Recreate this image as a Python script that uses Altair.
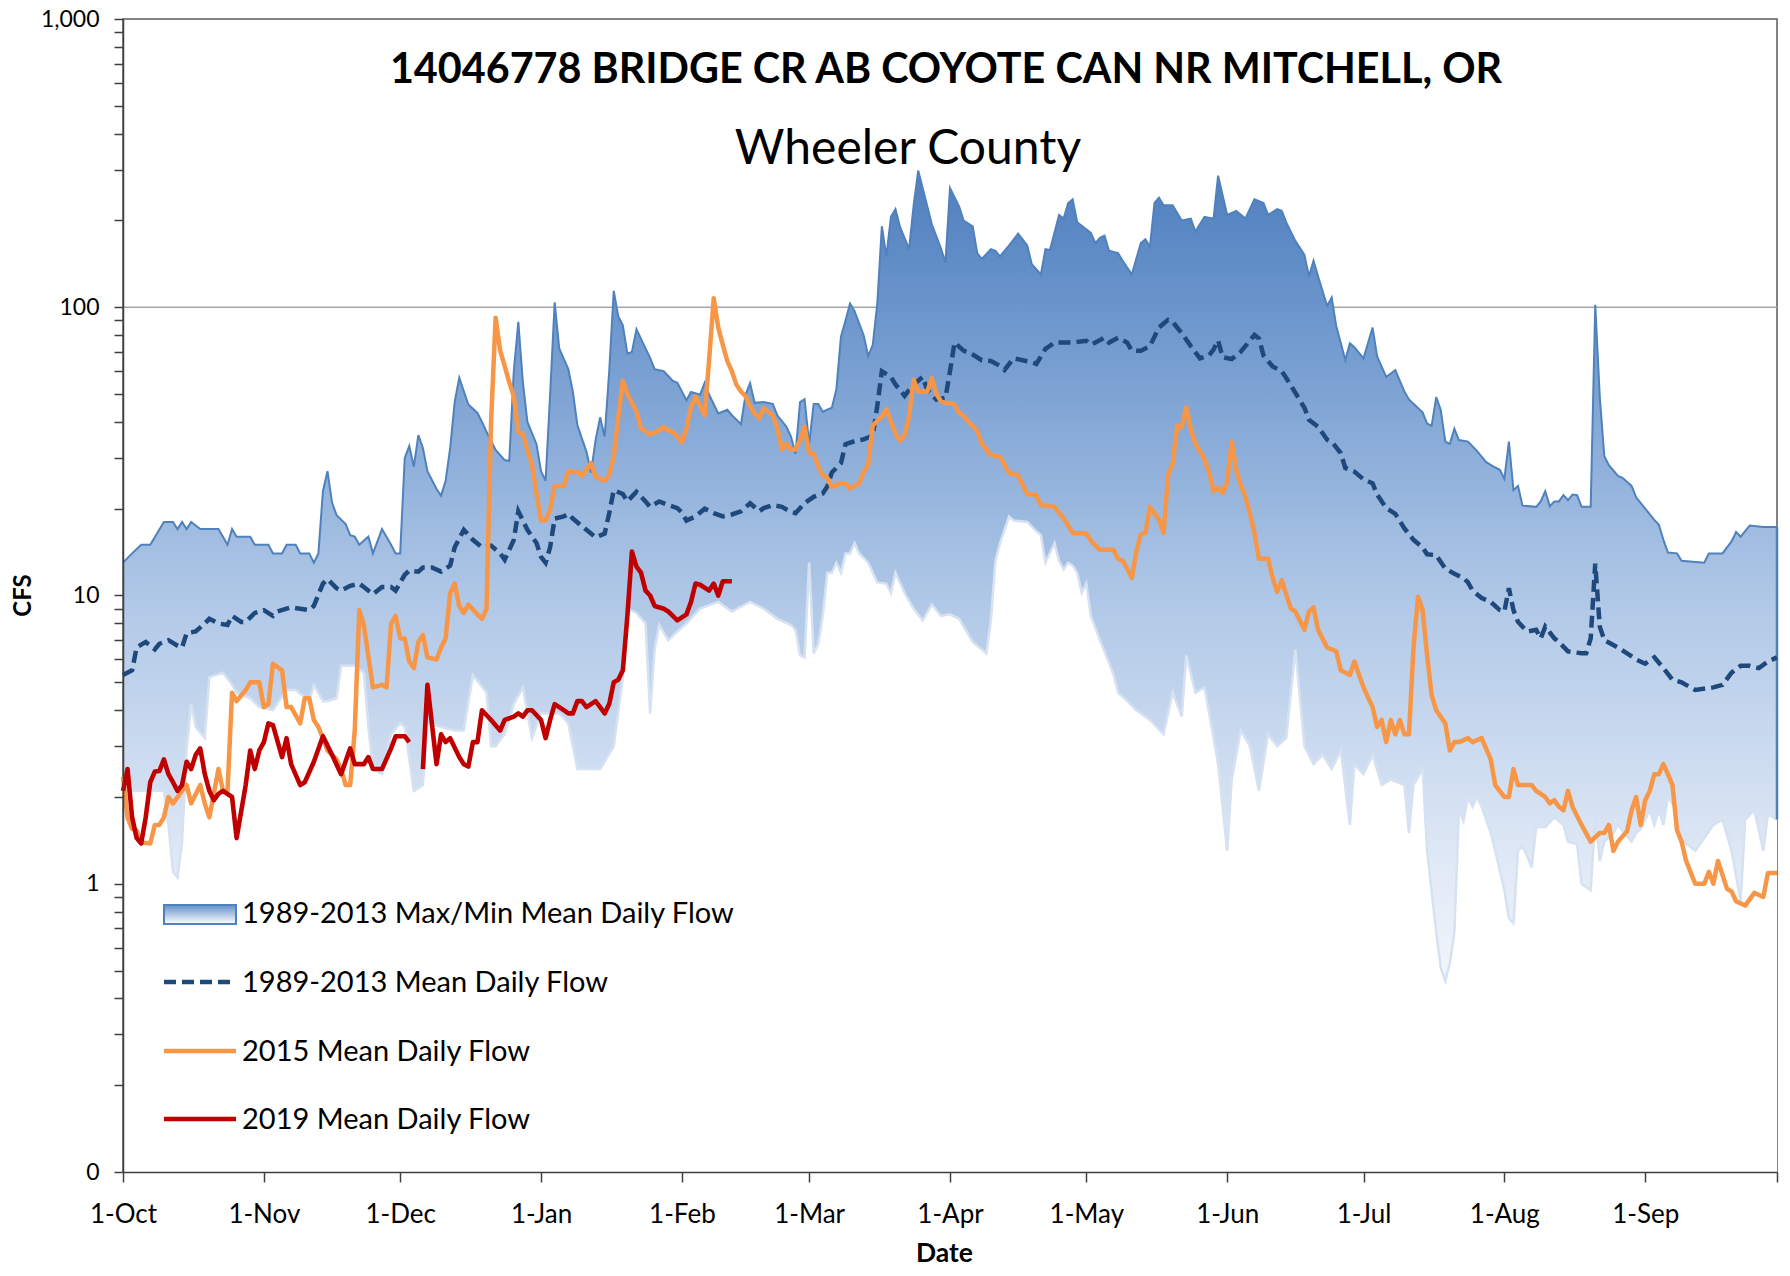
import datetime as dt
import pandas as pd
import altair as alt

# ---------------- text ----------------
TITLE = "14046778 BRIDGE CR AB COYOTE CAN NR MITCHELL, OR"
SUBTITLE = "Wheeler County"
X_TITLE = "Date"
Y_TITLE = "CFS"
LEGEND_LABELS = [
    "1989-2013 Max/Min Mean Daily Flow",
    "1989-2013 Mean Daily Flow",
    "2015 Mean Daily Flow",
    "2019 Mean Daily Flow",
]
FONT = "Lato"

# water-year day 0 = 1 Oct
BASE = dt.date(2018, 10, 1)
MONTH_TICK_DAYS = [0, 31, 61, 92, 123, 151, 182, 212, 243, 273, 304, 335, 364]

# ---------------- data (day of water year, cfs) ----------------
max_flow = [(0,13),(2,14),(4,15),(6,15),(9,18),(11,18),(12,17),(13,18),(14,17),(15,18),(17,17),(21,17),(22,16),(23,15),(24,17),(25,16),(28,16),(29,15),(32,15),(33,14),(35,14),(36,15),(38,15),(39,14),(41,14),(42,13),(43,14),(44,23),(45,27),(46,21),(47,19),(49,17.7),(50,16.2),(51,16),(52,15),(54,16),(55,14),(57,17),(59,15),(60,14),(61,14),(62,30),(63,33),(64,28),(65,36),(66,32.5),(67,27),(69,23.4),(70,22.2),(71,25),(72,32.5),(73,47),(74,57),(76,46),(78,43),(79,40),(80,37),(82,32),(84,29.5),(85,29.3),(86,60),(87,89),(88,55),(89,40),(91,33.5),(92,27),(93,25),(94,50),(95,104),(96,72),(98,61),(99,51),(100,39),(101,35),(102,31.5),(103,26.7),(104,34.6),(105,41.5),(106,35.6),(107,60),(108,114),(109,93),(110,86.5),(111,69),(112,70),(113,84),(115,72),(116,66.7),(117,61),(119,60),(121,55.5),(122,54.7),(124,47.6),(125,50.8),(127,49.7),(128,54.7),(129,49.7),(131,42.8),(133,44.1),(134,42.2),(136,39.3),(137,49.7),(138,54.5),(139,46.6),(141,46.9),(143,46.2),(144,42.2),(146,38.5),(147,35.6),(148,31),(149,46.9),(150,48),(151,33.5),(152,46.2),(153,46.2),(154,43.4),(156,44.8),(157,52),(158,79),(159,90),(160,103),(161,97),(162,88),(163,80),(164,67.7),(165,74),(166,103),(167,191),(168,150),(169,206),(170,219),(171,190),(173,159),(174,226),(175,298),(177,224),(178,194),(180,160),(181,143),(182,259),(184,224),(185,200),(187,191),(188,154),(189,147),(191,159),(192,157),(193,150),(195,164),(197,180),(199,164),(200,141),(202,130),(203,159),(204,158),(206,209),(207,203),(208,230),(209,237),(210,197),(213,181),(214,167),(215,174),(216,177),(217,157),(219,154),(220,145),(222,130),(224,167),(225,172),(226,162),(227,230),(228,240),(229,226),(231,226),(233,200),(235,203),(236,183),(238,206),(240,203),(241,286),(243,209),(245,216),(247,203),(249,237),(251,230),(252,209),(254,219),(255,216),(256,197),(258,170),(260,152),(261,128),(262,145),(263,128),(265,101),(266,108),(267,86),(269,65.6),(270,75),(271,72.7),(273,66.5),(275,85),(276,67.5),(278,57.3),(280,60.5),(282,51),(283,47.9),(284,46.3),(286,43.2),(287,39.5),(288,38.8),(289,48.8),(290,44),(291,34.2),(292,33.6),(293,37.9),(294,34.6),(296,34.2),(298,31.7),(300,29),(302,27.8),(303,27.3),(304,25.4),(305,34.2),(306,23.2),(307,24),(308,20.5),(311,20.3),(312,21.2),(313,23),(314,20.4),(315,21.2),(316,21.2),(317,22.3),(318,21.4),(319,22.4),(320,22.3),(321,20.3),(323,20.3),(324,102),(325,48.8),(326,30.4),(327,28.3),(329,26),(330,25.6),(332,24),(333,21.9),(335,20),(337,18.3),(338,17.6),(339,15.6),(340,14.1),(342,14),(343,13.2),(348,13),(349,14),(352,14),(354,15.4),(355,16.6),(356,16),(358,17.5),(361,17.3),(364,17.3)]

min_flow = [(0,2.1),(5,2.1),(9,2.1),(10,1.6),(11,1.1),(12,1.05),(13,1.4),(14,2.9),(15,4.2),(16,3.5),(18,3.2),(19,5.2),(22,5.4),(24,4.9),(25,4.6),(28,4.4),(30,4.1),(33,4.0),(36,4.7),(38,4.7),(41,4.3),(42,4.9),(44,4.3),(45,4.3),(47,4.4),(48,5.7),(51,5.7),(53,5.4),(54,3.5),(55,2.5),(57,2.4),(59,3.3),(61,3.6),(62,3.5),(64,2.1),(66,2.2),(67,3.6),(70,3.5),(73,3.4),(75,3.4),(77,5.3),(80,4.6),(81,3.0),(82,3.0),(84,3.3),(86,4.2),(88,4.8),(90,3.2),(92,3.9),(94,3.9),(96,3.9),(98,3.6),(100,2.5),(105,2.5),(108,3.0),(110,5.2),(111,9.0),(113,8.7),(115,8.0),(116,3.9),(117,6.5),(118,7.9),(120,7.0),(122,7.5),(124,8.0),(127,9.0),(131,9.5),(134,8.8),(138,9.5),(141,9.0),(144,8.3),(147,7.9),(148,7.6),(149,6.2),(150,6.1),(151,13),(152,6.3),(153,6.8),(154,8.5),(155,12),(156,12),(157,13),(158,12),(159,14),(160,14),(161,15.2),(162,14),(164,13),(166,11.1),(168,11),(169,10.2),(170,12),(172,10.2),(174,9.0),(176,8.2),(178,9.3),(180,8.5),(182,8.6),(184,8.3),(187,6.9),(190,6.3),(191,8.2),(192,13.2),(193,15.2),(195,18.8),(196,18.2),(199,18),(201,16.7),(202,16.2),(203,13),(205,15.2),(206,13.2),(207,12.3),(208,13),(209,12.7),(210,12),(211,10.2),(212,11),(213,8.5),(215,7.0),(216,6.4),(218,5.3),(219,4.6),(221,4.3),(223,4.0),(226,3.7),(229,3.3),(231,4.6),(233,3.8),(234,6.2),(236,4.6),(238,4.8),(240,3.2),(241,2.6),(243,1.3),(244,2.3),(246,3.4),(248,3.0),(250,2.1),(252,3.3),(254,3.0),(256,3.2),(258,6.5),(260,3.0),(262,2.6),(264,2.8),(266,2.5),(268,2.9),(270,1.6),(271,2.6),(273,2.4),(275,2.8),(277,2.2),(279,2.3),(282,2.2),(283,1.5),(284,2.2),(286,2.5),(287,1.3),(289,0.68),(290,0.51),(291,0.46),(292,0.53),(293,0.68),(294,1.8),(295,1.65),(296,2.0),(297,1.85),(298,2.0),(299,1.85),(301,1.5),(302,1.3),(304,0.95),(305,0.76),(306,0.73),(307,1.3),(308,1.35),(309,1.25),(310,1.14),(311,1.57),(313,1.57),(315,1.7),(317,1.6),(318,1.4),(320,1.37),(321,1.0),(323,0.95),(324,1.7),(325,1.2),(326,1.4),(328,1.5),(329,1.6),(331,1.46),(332,1.4),(333,1.5),(334,1.55),(336,1.8),(337,1.6),(338,1.8),(339,1.6),(340,2.0),(342,1.8),(343,1.42),(346,1.3),(350,1.6),(352,1.67),(354,1.3),(356,0.87),(357,1.67),(359,1.8),(361,1.3),(362,1.74),(364,1.67)]

mean_flow = [(0,5.3),(2,5.5),(3,6.6),(5,6.9),(7,6.5),(8,6.8),(10,7.0),(12,6.7),(13,6.6),(14,7.4),(16,7.5),(18,8.0),(19,8.3),(21,8.0),(23,7.9),(24,8.5),(26,8.1),(27,8.1),(29,8.7),(31,8.9),(33,8.5),(34,8.8),(36,9.0),(37,9.1),(39,9.0),(41,8.9),(42,9.2),(44,11),(45,11.4),(47,10.6),(48,10.4),(50,10.8),(52,11),(53,10.7),(55,10.1),(57,10.7),(59,10.7),(60,10.4),(62,11.8),(63,12.2),(65,12.1),(66,12.5),(68,12.5),(70,12.1),(72,12.7),(73,14.7),(75,16.9),(77,15.6),(79,14.7),(81,14.9),(83,14),(84,13.3),(86,15.6),(87,19.6),(89,16.9),(91,15.2),(92,13.6),(93,13),(94,14.7),(95,18.5),(97,18.8),(98,19.2),(99,18.5),(101,17.4),(103,16.4),(104,15.9),(106,16.4),(107,19.3),(108,23.2),(110,22.5),(111,21.2),(113,22.9),(115,21.2),(116,20.3),(118,21.2),(120,20.6),(122,20.1),(123,19.4),(124,18.2),(126,18.8),(128,20),(130,19.3),(132,18.8),(134,19.1),(136,19.6),(138,20.9),(140,19.6),(141,20.1),(143,20.6),(145,20.3),(147,19.5),(148,19.3),(150,20.9),(152,22),(154,22.6),(155,23.9),(156,26.7),(158,28.8),(159,33.5),(161,34.3),(163,34.8),(165,35.9),(166,45.5),(167,60),(169,57.3),(170,54),(172,49.3),(174,54),(176,57.3),(177,51.6),(179,47.8),(181,48.5),(182,60),(183,75.4),(185,70.7),(187,68.5),(189,65.5),(191,65.1),(193,62.6),(194,60.6),(196,66.5),(198,65.5),(200,64.5),(201,63.6),(203,71.7),(205,75.4),(207,75.4),(209,75.4),(212,76.5),(213,74.2),(214,75.4),(216,78.4),(217,75.4),(219,78.4),(221,75.4),(222,70.7),(224,70.7),(226,73.3),(228,85.1),(230,90.4),(231,89),(233,81.3),(235,73.3),(237,66.5),(239,68.1),(240,71.3),(241,76.7),(242,67.1),(244,66.1),(246,70.1),(247,73.3),(249,80.2),(250,77.9),(251,68),(253,62.3),(255,60),(256,56.8),(258,50.5),(260,44.8),(261,40.7),(263,38.5),(265,34.7),(266,34.2),(268,31.2),(269,27.7),(271,26.9),(273,25.3),(275,24.5),(276,22.4),(278,20.1),(280,19.2),(282,17.1),(284,15.6),(286,14.7),(287,13.9),(289,13.8),(291,12.4),(293,11.9),(295,11.5),(296,11.1),(297,10.4),(299,9.8),(301,9.5),(303,8.9),(304,8.8),(305,10.6),(306,8.9),(307,8.1),(309,7.5),(311,7.6),(312,7.1),(313,7.8),(315,7.1),(316,6.9),(318,6.4),(321,6.3),(322,6.3),(323,7.1),(324,12.9),(325,7.8),(326,7.0),(329,6.6),(331,6.3),(333,6.0),(335,5.8),(337,6.1),(339,5.6),(341,5.1),(343,5.0),(346,4.7),(350,4.8),(352,4.9),(354,5.4),(356,5.7),(358,5.7),(360,5.6),(362,5.9),(364,6.1)]

flow_2015 = [(0,2.35),(1,1.7),(2,1.55),(3,1.53),(4,1.39),(6,1.38),(7,1.6),(8,1.6),(9,1.7),(10,2.0),(11,1.9),(13,2.1),(14,2.2),(15,1.9),(17,2.2),(18,1.9),(19,1.7),(21,2.5),(22,2.1),(23,2.1),(24,4.6),(25,4.3),(27,4.7),(28,5.0),(30,5.0),(31,4.1),(32,4.2),(33,5.8),(35,5.5),(36,4.1),(37,4.1),(39,3.6),(40,4.4),(41,4.4),(42,3.7),(43,3.5),(44,3.2),(45,2.9),(47,2.7),(48,2.5),(49,2.2),(50,2.2),(51,3.4),(52,8.9),(53,7.9),(55,4.8),(57,4.9),(58,4.8),(59,8.0),(60,8.5),(61,7.1),(62,7.1),(63,5.9),(64,5.6),(65,6.9),(66,7.3),(67,6.1),(69,6.0),(70,6.6),(71,7.1),(72,10.2),(73,11),(74,9.2),(75,8.7),(76,9.3),(78,8.6),(79,8.3),(80,9.0),(81,40),(82,92),(83,70.8),(84,62.5),(85,55),(86,49),(87,36.9),(88,36.2),(90,28.4),(91,22.6),(92,18.2),(93,18.2),(94,19.9),(95,24),(97,24),(98,27),(100,26.8),(101,26),(103,28.8),(104,25.8),(106,25),(107,26.2),(108,30.5),(109,41.5),(110,55.5),(111,50),(113,43.4),(114,38),(116,36.2),(118,37.4),(119,38.5),(120,37.4),(121,36.9),(122,35.6),(123,34),(124,38),(125,45),(126,49),(127,45.5),(128,42.2),(129,66),(130,107.5),(131,85),(132,74),(133,65),(134,60),(135,53.8),(136,51),(137,49.1),(138,45.5),(139,42.8),(140,41.2),(141,44.6),(143,42.2),(144,38),(145,32.1),(146,33.6),(147,32.1),(148,32.1),(149,34.5),(150,38.5),(151,31.2),(152,31),(153,28.1),(154,26.1),(155,25.6),(156,23.8),(158,24.5),(159,24.5),(160,23.5),(162,24.5),(163,26.9),(164,28.4),(165,38.9),(167,41.7),(168,44.3),(169,40.1),(170,36.5),(171,34.4),(172,36),(173,41.9),(174,56),(175,51),(177,51),(178,56.8),(179,50),(180,47.2),(181,46.5),(182,46.5),(183,46),(184,43),(185,42),(186,40.2),(188,37.3),(189,33.6),(191,30.7),(193,30.3),(195,26.6),(197,26.1),(199,22.5),(201,22.3),(202,20.6),(205,20.3),(207,18.5),(209,16.5),(212,16.4),(213,15.5),(215,14.4),(218,14.4),(219,13.4),(220,13.2),(221,12.4),(222,11.5),(223,14.2),(224,16.3),(225,16.5),(226,20.3),(228,18.3),(229,16.5),(230,26.2),(231,28.7),(232,38.9),(233,38.4),(234,45),(235,37.8),(236,33.6),(238,29.7),(239,26.8),(240,23),(241,23.7),(242,22.7),(243,24.8),(244,34.1),(245,27.2),(246,24.1),(247,22),(248,19.3),(249,16.5),(250,13.4),(252,13.4),(253,11.5),(254,10.3),(255,11.3),(257,9.0),(258,8.8),(260,7.6),(261,8.8),(262,9.1),(263,7.6),(265,6.6),(267,6.4),(268,5.5),(270,5.3),(271,5.9),(273,4.8),(275,4.1),(276,3.5),(277,3.7),(278,3.1),(279,3.7),(280,3.3),(281,3.7),(282,3.3),(283,3.3),(284,6.6),(285,9.9),(286,8.9),(287,6.2),(288,4.5),(289,4.0),(291,3.6),(292,2.9),(293,3.1),(294,3.1),(296,3.2),(297,3.1),(299,3.2),(301,2.7),(302,2.2),(304,2.0),(305,2.0),(306,2.5),(307,2.2),(310,2.2),(311,2.1),(313,2.0),(314,1.9),(315,1.95),(316,1.85),(317,1.8),(318,2.1),(319,1.85),(321,1.6),(323,1.4),(325,1.5),(326,1.5),(327,1.6),(328,1.3),(329,1.4),(331,1.52),(332,1.8),(333,2.0),(334,1.6),(335,1.95),(336,2.1),(337,2.4),(338,2.4),(339,2.6),(340,2.4),(341,2.2),(342,1.53),(343,1.4),(344,1.2),(346,1.0),(348,1.0),(349,1.1),(350,1.0),(351,1.2),(353,0.96),(354,0.94),(355,0.87),(357,0.84),(359,0.93),(361,0.9),(362,1.09),(364,1.09)]

# None = no record (gap in the line)
flow_2019 = [(0,2.1),(1,2.5),(2,1.7),(3,1.44),(4,1.38),(5,1.7),(6,2.25),(7,2.45),(8,2.46),(9,2.7),(10,2.4),(11,2.25),(12,2.1),(13,2.2),(14,2.65),(15,2.5),(16,2.8),(17,2.95),(18,2.4),(19,2.1),(20,1.95),(21,2.05),(22,2.1),(24,2.0),(25,1.44),(27,2.2),(28,2.9),(29,2.5),(30,2.9),(31,3.1),(32,3.6),(33,3.55),(35,2.75),(36,3.2),(37,2.6),(39,2.2),(40,2.25),(42,2.65),(44,3.25),(46,2.8),(48,2.4),(50,2.95),(51,2.6),(53,2.6),(54,2.75),(55,2.5),(57,2.5),(59,2.95),(60,3.25),(62,3.25),(63,3.1),(64,None),(65,None),(66,2.5),(67,4.9),(69,2.6),(70,3.3),(71,3.1),(72,3.2),(74,2.75),(75,2.6),(76,2.55),(77,3.1),(78,3.1),(79,4.0),(81,3.7),(83,3.4),(84,3.7),(86,3.8),(87,3.9),(88,3.8),(89,4.0),(90,4.0),(92,3.7),(93,3.2),(94,3.7),(95,4.2),(97,4.0),(98,3.9),(99,3.9),(100,4.3),(101,4.3),(102,4.1),(104,4.3),(105,4.1),(106,3.9),(107,4.2),(108,5.0),(109,5.1),(110,5.5),(111,8.5),(112,14.2),(113,12.6),(114,12.0),(115,10.4),(116,10.0),(117,9.2),(119,9.0),(120,8.8),(121,8.5),(122,8.2),(124,8.6),(125,9.5),(126,11),(127,10.9),(129,10.4),(130,11.0),(131,10.0),(132,11.2),(134,11.2)]


def to_frame(pairs):
    rows = []
    seg = 0
    for d, v in pairs:
        if v is None:
            seg += 1
            continue
        rows.append({"date": (BASE + dt.timedelta(days=d)).isoformat(), "cfs": v, "seg": seg})
    return pd.DataFrame(rows)


df_max = to_frame(max_flow)
df_min = to_frame(min_flow)
df_mean = to_frame(mean_flow)
df_2015 = to_frame(flow_2015)
df_2019 = to_frame(flow_2019)
df_edge = pd.DataFrame({"date": [df_max["date"].iloc[-1]],
                        "cfs": [df_max["cfs"].iloc[-1]],
                        "cfs2": [df_min["cfs"].iloc[-1]]})
df_grid = pd.DataFrame({"cfs": [100]})


def dtime(d):
    t = BASE + dt.timedelta(days=d)
    return alt.DateTime(year=t.year, month=t.month, date=t.day, utc=True)


y_tick_values = [round(m * 10.0 ** e, 6) for e in range(-1, 3) for m in range(1, 10)] + [1000]

X = alt.X(
    "date:T",
    scale=alt.Scale(type="utc", domain=[dtime(0), dtime(364)]),
    axis=alt.Axis(
        title=X_TITLE, values=[dtime(d) for d in MONTH_TICK_DAYS],
        labelExpr="utcdate(datum.value) == 1 ? utcFormat(datum.value, '%-d-%b') : ''",
        labelFont=FONT, labelFontSize=26, labelColor="black", labelFlush=False,
        labelOverlap=False, labelBaseline="top", labelPadding=19,
        tickSize=10, tickColor="#404040", tickWidth=1.5,
        domainColor="#404040", domainWidth=1.5, grid=False,
        titleFont=FONT, titleFontSize=26.5, titleFontWeight="bold", titleColor="black",
        titleX=821, titleY=89, titleAlign="center", titleBaseline="alphabetic",
        zindex=1,
    ),
)
Y = alt.Y(
    "cfs:Q",
    scale=alt.Scale(type="log", domain=[0.1, 1000], nice=False),
    axis=alt.Axis(
        title=Y_TITLE, values=y_tick_values,
        labelExpr="indexof([1, 10, 100, 1000], datum.value) >= 0 ? format(datum.value, ',') : (datum.value == 0.1 ? '0' : '')",
        labelFont=FONT, labelFontSize=23, labelColor="black", labelOverlap=False,
        labelPadding=15, tickSize=9, tickColor="#404040", tickWidth=1.5,
        domainColor="#404040", domainWidth=1.5, grid=False,
        titleFont=FONT, titleFontSize=24, titleFontWeight="bold", titleColor="black",
        titleX=-100, titleY=576, titleAngle=270, titleAlign="center", titleBaseline="middle",
        zindex=1,
    ),
)

band_fill = alt.Gradient(
    gradient="linear", x1=0, x2=0, y1=0, y2=1,
    stops=[
        alt.GradientStop(color="#4f7fbd", offset=0),
        alt.GradientStop(color="#6b95cc", offset=0.14),
        alt.GradientStop(color="#b0c8e7", offset=0.43),
        alt.GradientStop(color="#e3ebf7", offset=0.71),
        alt.GradientStop(color="#f3f7fc", offset=0.82),
        alt.GradientStop(color="#ffffff", offset=1),
    ],
)
swatch_fill = alt.Gradient(
    gradient="linear", x1=0, x2=0, y1=0, y2=1,
    stops=[alt.GradientStop(color="#6390c9", offset=0),
           alt.GradientStop(color="#ffffff", offset=1)],
)

grid = alt.Chart(df_grid).mark_rule(color="#a6a6a6", strokeWidth=1.3).encode(y=Y)

max_area = alt.Chart(df_max).mark_area(fill=band_fill).encode(x=X, y=Y, y2=alt.Y2Datum(0.1))
max_line = alt.Chart(df_max).mark_line(color="#4f81bd", strokeWidth=2).encode(x=X, y=Y)
min_area = alt.Chart(df_min).mark_area(color="white", opacity=1).encode(x=X, y=Y, y2=alt.Y2Datum(0.1))
min_line = alt.Chart(df_min).mark_line(color="#d6e2f1", strokeWidth=2.5).encode(x=X, y=Y)
edge = alt.Chart(df_edge).mark_rule(color="#4f81bd", strokeWidth=2.5).encode(x=X, y=Y, y2="cfs2:Q")

MEAN_DASH = [12, 6]
mean_line = alt.Chart(df_mean).mark_line(
    color="#1f497d", strokeWidth=4.5, strokeDash=MEAN_DASH).encode(x=X, y=Y)
line_2015 = alt.Chart(df_2015).mark_line(
    color="#f79646", strokeWidth=4.5, strokeJoin="round").encode(x=X, y=Y)
line_2019 = alt.Chart(df_2019).mark_line(
    color="#c00000", strokeWidth=4.6, strokeJoin="round").encode(x=X, y=Y, detail="seg:N")

one = pd.DataFrame({"k": [0]})


def text_layer(txt, x, y, size, weight="normal", align="left"):
    return alt.Chart(pd.DataFrame({"t": [txt]})).mark_text(
        align=align, baseline="alphabetic", font=FONT, fontSize=size,
        fontWeight=weight, color="black",
    ).encode(x=alt.value(x), y=alt.value(y), text="t:N")


title_layer = text_layer(TITLE, 823, 64, 41.3, "bold", "center")
subtitle_layer = text_layer(SUBTITLE, 785, 145, 48, "normal", "center")

LEG_X0, LEG_X1, LEG_TX = 41, 113, 119
leg_rect = alt.Chart(one).mark_rect(fill=swatch_fill, stroke="#4f81bd", strokeWidth=2).encode(
    x=alt.value(LEG_X0), x2=alt.value(LEG_X1), y=alt.value(886), y2=alt.value(905))
leg_mean = alt.Chart(one).mark_rule(color="#1f497d", strokeWidth=4.5, strokeDash=MEAN_DASH).encode(
    x=alt.value(LEG_X0), x2=alt.value(LEG_X1), y=alt.value(963))
leg_2015 = alt.Chart(one).mark_rule(color="#f79646", strokeWidth=4.5).encode(
    x=alt.value(LEG_X0), x2=alt.value(LEG_X1), y=alt.value(1032))
leg_2019 = alt.Chart(one).mark_rule(color="#c00000", strokeWidth=4.6).encode(
    x=alt.value(LEG_X0), x2=alt.value(LEG_X1), y=alt.value(1100))
leg_texts = [text_layer(lbl, LEG_TX, ty, 29) for lbl, ty in zip(LEGEND_LABELS, [904, 973, 1042, 1110])]

chart = alt.layer(
    grid, max_area, max_line, min_area, min_line, edge,
    mean_line, line_2015, line_2019,
    title_layer, subtitle_layer,
    leg_rect, leg_mean, leg_2015, leg_2019, *leg_texts,
).properties(
    width=1654, height=1153,
    padding={"left": 115, "top": 11, "right": 4, "bottom": 95},
    autosize=alt.AutoSizeParams(type="none"),
    background="white",
).configure_view(stroke="#595959", strokeWidth=1.5)

chart.save("out.html", embed_options={"renderer": "svg", "actions": False})
